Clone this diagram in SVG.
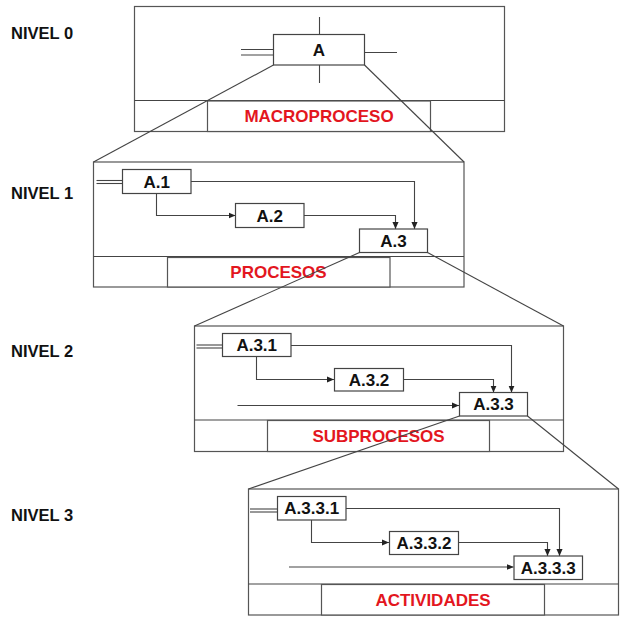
<svg xmlns="http://www.w3.org/2000/svg" width="628" height="631" viewBox="0 0 628 631">
<defs>
<style>
.frame{fill:#fff;stroke:#555;stroke-width:1.2}
.box{fill:#fff;stroke:#444;stroke-width:1.2}
.ln{fill:none;stroke:#444;stroke-width:1.1}
.t{font-family:"Liberation Sans",Arial,sans-serif;font-weight:bold;font-size:17px;fill:#111;text-anchor:middle}
.lv{font-family:"Liberation Sans",Arial,sans-serif;font-weight:bold;font-size:16.5px;fill:#111}
.red{font-family:"Liberation Sans",Arial,sans-serif;font-weight:bold;font-size:17px;fill:#e3161e;text-anchor:middle}
</style>
<marker id="ah" viewBox="0 0 8 8" refX="8" refY="4" markerWidth="7" markerHeight="7" markerUnits="userSpaceOnUse" orient="auto">
<path d="M0,0.5 L8,4 L0,7.5 Z" fill="#222"/>
</marker>
</defs>

<g id="levels">
<text class="lv" x="11" y="39">NIVEL 0</text>
<text class="lv" x="11" y="199">NIVEL 1</text>
<text class="lv" x="11" y="357">NIVEL 2</text>
<text class="lv" x="11" y="521">NIVEL 3</text>
</g>

<g id="level0">
<rect class="frame" x="134.5" y="6.5" width="370" height="125"/>
<line class="ln" x1="134.5" y1="100.5" x2="504.5" y2="100.5"/>
<g id="macroproceso"><rect class="frame" x="207.5" y="101" width="223" height="30.5"/>
<text class="red" x="319" y="122">MACROPROCESO</text></g>
</g>

<g id="level1">
<rect class="frame" x="93.5" y="162" width="370.5" height="125"/>
<line class="ln" x1="93.5" y1="256.5" x2="464" y2="256.5"/>
<g id="procesos"><rect class="frame" x="167.5" y="257.5" width="222.5" height="29.5"/>
<text class="red" x="278.5" y="278">PROCESOS</text></g>
</g>

<g id="level2">
<rect class="frame" x="194.5" y="326" width="369" height="125.5"/>
<line class="ln" x1="194.5" y1="420" x2="563.5" y2="420"/>
<g id="subprocesos"><rect class="frame" x="267.5" y="420.5" width="222" height="31"/>
<text class="red" x="378.5" y="442">SUBPROCESOS</text></g>
</g>

<g id="level3">
<rect class="frame" x="248.5" y="489" width="370" height="126"/>
<line class="ln" x1="248.5" y1="584" x2="618.5" y2="584"/>
<g id="actividades"><rect class="frame" x="321.5" y="584.5" width="223" height="30.5"/>
<text class="red" x="433" y="606">ACTIVIDADES</text></g>
</g>

<g id="connectors">
<line class="ln" x1="319.5" y1="17" x2="319.5" y2="34"/>
<line class="ln" x1="319.5" y1="65" x2="319.5" y2="83"/>
<line class="ln" x1="364.5" y1="52.5" x2="397" y2="52.5"/>
<line class="ln" x1="241" y1="49.5" x2="273.5" y2="49.5"/>
<line class="ln" x1="241" y1="55" x2="273.5" y2="55"/>
<line class="ln" x1="96.5" y1="180.5" x2="122.5" y2="180.5"/>
<line class="ln" x1="96.5" y1="183.5" x2="122.5" y2="183.5"/>
<polyline class="ln" points="191,181.5 414.5,181.5 414.5,229" marker-end="url(#ah)"/>
<polyline class="ln" points="156.5,193.5 156.5,215.5 235.5,215.5" marker-end="url(#ah)"/>
<polyline class="ln" points="304,215.5 395.5,215.5 395.5,229" marker-end="url(#ah)"/>
<line class="ln" x1="196.5" y1="345" x2="222.5" y2="345"/>
<line class="ln" x1="196.5" y1="348" x2="222.5" y2="348"/>
<polyline class="ln" points="291,345.5 511.5,345.5 511.5,392.5" marker-end="url(#ah)"/>
<polyline class="ln" points="256.5,356.5 256.5,379.5 334,379.5" marker-end="url(#ah)"/>
<polyline class="ln" points="403.5,379.5 493.5,379.5 493.5,392.5" marker-end="url(#ah)"/>
<line class="ln" x1="237.5" y1="405.5" x2="459" y2="405.5" marker-end="url(#ah)"/>
<line class="ln" x1="250" y1="509" x2="277.5" y2="509"/>
<line class="ln" x1="250" y1="512" x2="277.5" y2="512"/>
<polyline class="ln" points="346,508.5 559.5,508.5 559.5,556" marker-end="url(#ah)"/>
<polyline class="ln" points="311.5,520 311.5,542.5 389,542.5" marker-end="url(#ah)"/>
<polyline class="ln" points="458.5,542.5 547.5,542.5 547.5,556" marker-end="url(#ah)"/>
<line class="ln" x1="289" y1="567" x2="513.5" y2="567" marker-end="url(#ah)"/>
<line class="ln" x1="273.5" y1="65" x2="93.5" y2="162"/>
<line class="ln" x1="364.5" y1="65" x2="464" y2="162"/>
<line class="ln" x1="359.5" y1="252.5" x2="194.5" y2="326"/>
<line class="ln" x1="427.5" y1="252.5" x2="563.5" y2="326"/>
<line class="ln" x1="459.5" y1="416" x2="248.5" y2="489"/>
<line class="ln" x1="527.5" y1="416" x2="618.5" y2="489"/>
</g>

<g id="nodeA"><rect class="box" x="273.5" y="34.5" width="91" height="30.5"/><text class="t" x="319" y="56">A</text></g>
<g id="nodeA1"><rect class="box" x="122.5" y="169.5" width="68.5" height="24"/><text class="t" x="156.7" y="187.5">A.1</text></g>
<g id="nodeA2"><rect class="box" x="235.5" y="203.5" width="68.5" height="24"/><text class="t" x="269.7" y="221.5">A.2</text></g>
<g id="nodeA3"><rect class="box" x="359.5" y="229" width="68" height="23.5"/><text class="t" x="393.5" y="246.8">A.3</text></g>
<g id="nodeA31"><rect class="box" x="222.5" y="333.5" width="68.5" height="23"/><text class="t" x="256.7" y="351.3">A.3.1</text></g>
<g id="nodeA32"><rect class="box" x="334.5" y="368.5" width="69" height="22.5"/><text class="t" x="369" y="386">A.3.2</text></g>
<g id="nodeA33"><rect class="box" x="459.5" y="392.5" width="68" height="23.5"/><text class="t" x="493.5" y="410.3">A.3.3</text></g>
<g id="nodeA331"><rect class="box" x="277.5" y="496.5" width="68.5" height="23.5"/><text class="t" x="311.7" y="514.3">A.3.3.1</text></g>
<g id="nodeA332"><rect class="box" x="389.5" y="531.5" width="69" height="23"/><text class="t" x="424" y="549.3">A.3.3.2</text></g>
<g id="nodeA333"><rect class="box" x="514" y="556" width="68.5" height="23.5"/><text class="t" x="548.2" y="573.8">A.3.3.3</text></g>
</svg>
